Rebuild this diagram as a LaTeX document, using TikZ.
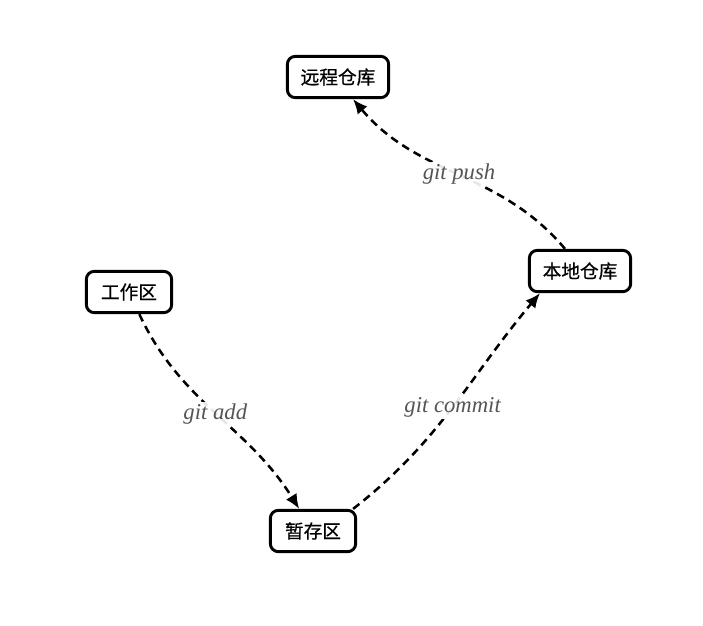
\documentclass[tikz,border=0pt]{standalone}
\usepackage{fontspec}
\setmainfont{Liberation Serif}
\newfontfamily\cjk[FakeBold=0.6]{Noto Sans CJK SC}
\usetikzlibrary{arrows.meta,calc}
\definecolor{labgray}{RGB}{85,85,85}
\tikzset{
  area/.style={draw,line width=2.2pt,rounded corners=6pt,fill=white,
    minimum height=31pt,minimum width=64pt,inner xsep=10pt,
    font=\cjk\fontsize{14pt}{15pt}\selectfont},
  flow/.style={dashed,dash pattern=on 6pt off 4pt,line width=1.9pt,
    -{Latex[length=11pt,width=9.5pt]}},
  cmd/.style={fill=white,fill opacity=0.9,text opacity=1,text=labgray,inner sep=1pt,
    font=\itshape\fontsize{17pt}{19pt}\selectfont}
}

\begin{document}
\begin{tikzpicture}[x=0.75pt,y=-0.75pt]
  \useasboundingbox (0,0) rectangle (703,625);

  % ================= 四个区域 =================
  \node[area] (remote) at (338,77)  {远程仓库};
  \node[area] (work)   at (129,292) {工作区};
  \node[area] (local)  at (580,271) {本地仓库};
  \node[area] (stage)  at (313,531) {暂存区};

  % ================= 命令：虚线箭头 =================
  % 工作区 -> 暂存区
  \draw[flow] (work) to[out=-65,in=122] node[cmd] {git add} (stage);
  % 暂存区 -> 本地仓库
  \draw[flow] ([shift={(-4,0)}]stage.north east) to[out=38,in=-130]
    node[cmd] {git commit} ([shift={(-40,0)}]local.south);
  % 本地仓库 -> 远程仓库
  \draw[flow] ([shift={(-15,0)}]local.north) to[out=130,in=-50]
    node[cmd] {git push} ([shift={(15,0)}]remote.south);
\end{tikzpicture}
\end{document}
